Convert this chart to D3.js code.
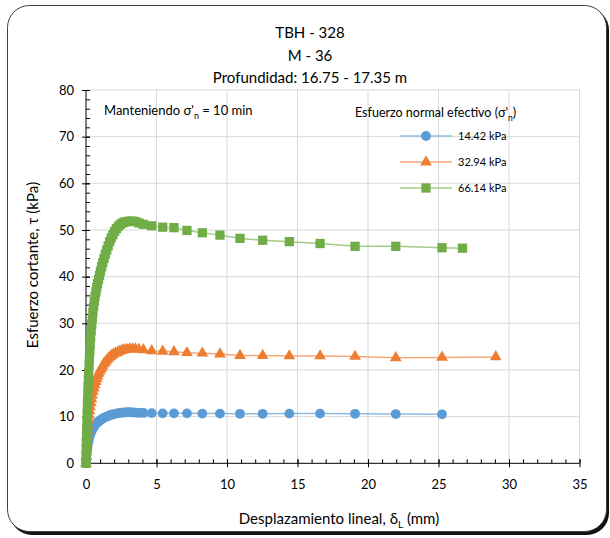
<!DOCTYPE html>
<html>
<head>
<meta charset="utf-8">
<script src="https://cdn.jsdelivr.net/npm/d3@7"></script>
<style>
  body { margin: 0; background: #fff; }
  svg { display: block; font-family: Lato, "Open Sans", sans-serif; }
</style>
</head>
<body>
<svg id="chart" width="610" height="538"></svg>
<script>
// title lines
const titleLines = ["TBH - 328", "M - 36", "Profundidad: 16.75 - 17.35 m"];

// series labels (normal effective stress)
const seriesNames = ["14.42 kPa", "32.94 kPa", "66.14 kPa"];

// displacement (mm) / shear stress (kPa)
const blueX = [0, 0.03, 0.06, 0.09, 0.12, 0.16, 0.20, 0.25, 0.30, 0.35,
  0.41, 0.47, 0.53, 0.60, 0.67, 0.75, 0.83, 0.92, 1.01, 1.10,
  1.20, 1.31, 1.42, 1.54, 1.66, 1.79, 1.93, 2.07, 2.22, 2.38,
  2.55, 2.73, 2.92, 3.12, 3.33, 3.56, 3.80, 4.07, 4.66, 5.44,
  6.24, 7.16, 8.25, 9.50, 10.92, 12.53, 14.42, 16.60, 19.08, 21.97, 25.25];
const blueY = [0, 1.0, 2.0, 3.0, 3.8, 4.5, 5.1, 5.7, 6.2, 6.6,
  7.0, 7.4, 7.7, 8.0, 8.3, 8.6, 8.8, 9.0, 9.2, 9.4,
  9.6, 9.8, 9.95, 10.1, 10.25, 10.4, 10.5, 10.6, 10.7, 10.8,
  10.85, 10.9, 10.95, 10.95, 10.9, 10.85, 10.8, 10.8, 10.75, 10.7,
  10.7, 10.7, 10.65, 10.65, 10.6, 10.6, 10.65, 10.65, 10.6, 10.55, 10.5];

const orangeX = [0, 0.02, 0.04, 0.06, 0.08, 0.11, 0.14, 0.17, 0.21, 0.25,
  0.29, 0.34, 0.39, 0.44, 0.50, 0.56, 0.62, 0.69, 0.76, 0.83,
  0.91, 0.99, 1.08, 1.17, 1.27, 1.37, 1.48, 1.59, 1.71, 1.83,
  1.96, 2.10, 2.24, 2.39, 2.55, 2.72, 2.90, 3.09, 3.29, 3.50,
  3.74, 4.07, 4.66, 5.44, 6.24, 7.16, 8.25, 9.50, 10.92, 12.53,
  14.42, 16.60, 19.08, 21.97, 25.25, 29.06];
const orangeY = [0, 1.5, 3.0, 4.5, 5.8, 7.0, 8.2, 9.3, 10.3, 11.2,
  12.1, 13.0, 13.8, 14.6, 15.4, 16.1, 16.8, 17.5, 18.1, 18.7,
  19.3, 19.8, 20.3, 20.8, 21.3, 21.7, 22.1, 22.5, 22.8, 23.1,
  23.4, 23.6, 23.8, 24.0, 24.2, 24.3, 24.4, 24.5, 24.5, 24.5,
  24.4, 24.3, 24.1, 24.0, 23.9, 23.7, 23.6, 23.4, 23.1, 23.1,
  23.0, 23.0, 22.9, 22.6, 22.7, 22.8];

const greenX = [0, 0.01, 0.02, 0.03, 0.04, 0.05, 0.07, 0.08, 0.10, 0.11,
  0.13, 0.15, 0.17, 0.19, 0.22, 0.24, 0.27, 0.30, 0.33, 0.37,
  0.41, 0.45, 0.49, 0.54, 0.59, 0.64, 0.70, 0.76, 0.82, 0.89,
  0.96, 1.03, 1.11, 1.19, 1.28, 1.37, 1.47, 1.57, 1.68, 1.79,
  1.91, 2.03, 2.16, 2.30, 2.44, 2.59, 2.75, 2.92, 3.10, 3.30,
  3.52, 3.76, 4.07, 4.66, 5.44, 6.24, 7.16, 8.25, 9.50, 10.92,
  12.53, 14.42, 16.60, 19.08, 21.97, 25.25, 26.70];
const greenY = [0, 1.5, 3.0, 4.5, 6.0, 7.5, 9.0, 10.5, 12.0, 13.5,
  15.0, 16.5, 18.0, 19.5, 21.0, 22.5, 24.0, 25.5, 27.0, 28.4,
  29.8, 31.1, 32.4, 33.6, 34.7, 35.7, 36.7, 37.6, 38.5, 39.4,
  40.3, 41.2, 42.1, 43.0, 43.9, 44.8, 45.7, 46.6, 47.5, 48.3,
  49.0, 49.7, 50.3, 50.8, 51.2, 51.5, 51.7, 51.8, 51.9, 51.9,
  51.8, 51.5, 51.2, 50.9, 50.6, 50.5, 49.9, 49.4, 48.9, 48.2,
  47.8, 47.5, 47.1, 46.5, 46.5, 46.2, 46.1];

const xTicks = [0, 5, 10, 15, 20, 25, 30, 35];
const yTicks = [0, 10, 20, 30, 40, 50, 60, 70, 80];

const svg = d3.select("#chart");
const plot = { left: 86, right: 579.5, top: 90, bottom: 463.3 };

const x = d3.scaleLinear().domain([0, 35]).range([plot.left, plot.right]);
const y = d3.scaleLinear().domain([0, 80]).range([plot.bottom, plot.top]);

// outer frame with shadow
svg.append("rect").attr("x", 10).attr("y", 8).attr("width", 599).attr("height", 527)
  .attr("rx", 22).attr("fill", "#111");
svg.append("rect").attr("x", 7.5).attr("y", 5.5).attr("width", 599).attr("height", 526)
  .attr("rx", 22).attr("fill", "#fff").attr("stroke", "#404040").attr("stroke-width", 1);

// titles
svg.append("g").selectAll("text").data(titleLines).join("text")
  .attr("x", 310).attr("y", (d, i) => 38 + i * 22.5)
  .attr("text-anchor", "middle").attr("font-size", 15).attr("fill", "#000")
  .text((d) => d);

// gridlines
const grid = svg.append("g").attr("stroke", "#d9d9d9").attr("stroke-width", 1);
grid.selectAll("line.gx").data(xTicks.slice(1)).join("line")
  .attr("x1", (d) => x(d)).attr("x2", (d) => x(d))
  .attr("y1", plot.top).attr("y2", plot.bottom);
grid.selectAll("line.gy").data(yTicks.slice(1)).join("line")
  .attr("x1", plot.left).attr("x2", plot.right)
  .attr("y1", (d) => y(d)).attr("y2", (d) => y(d));

// axes: minor ticks inside, major ticks crossing
const xAxis = svg.append("g").attr("transform", `translate(0,${plot.bottom})`);
xAxis.call(d3.axisBottom(x).tickValues(d3.range(0, 36, 1)).tickSize(-4).tickFormat(""))
  .call((g) => g.select(".domain").remove());
xAxis.append("g").call(d3.axisBottom(x).tickValues(xTicks).tickSize(4).tickPadding(12))
  .call((g) => g.select(".domain").remove())
  .call((g) => g.selectAll(".tick line").attr("y1", -4))
  .call((g) => g.selectAll("text").attr("font-size", 13).attr("font-family", "Lato").attr("fill", "#000"));
xAxis.append("line").attr("x1", plot.left).attr("x2", plot.right).attr("stroke", "#000");

const yAxis = svg.append("g").attr("transform", `translate(${plot.left},0)`);
yAxis.call(d3.axisLeft(y).tickValues(d3.range(0, 81, 2)).tickSize(-4).tickFormat(""))
  .call((g) => g.select(".domain").remove());
yAxis.append("g").call(d3.axisLeft(y).tickValues(yTicks).tickSize(4).tickPadding(8))
  .call((g) => g.select(".domain").remove())
  .call((g) => g.selectAll(".tick line").attr("x1", 4))
  .call((g) => g.selectAll("text").attr("font-size", 13).attr("font-family", "Lato").attr("fill", "#000"));
yAxis.append("line").attr("y1", plot.top).attr("y2", plot.bottom).attr("stroke", "#000");

// axis titles
const xt = svg.append("text").attr("x", 339).attr("y", 524).attr("text-anchor", "middle")
  .attr("font-size", 15).attr("fill", "#000");
xt.append("tspan").text("Desplazamiento lineal, \u03b4");
xt.append("tspan").attr("font-size", 10).attr("dy", 4).text("L");
xt.append("tspan").attr("dy", -4).text(" (mm)");

svg.append("text").attr("transform", "translate(38,265) rotate(-90)")
  .attr("text-anchor", "middle").attr("font-size", 15).attr("fill", "#000")
  .text("Esfuerzo cortante, \u03c4 (kPa)");

// note
const note = svg.append("text").attr("x", 104).attr("y", 115).attr("font-size", 13).attr("fill", "#000");
note.append("tspan").text("Manteniendo \u03c3'");
note.append("tspan").attr("font-size", 9).attr("dy", 4).text("n");
note.append("tspan").attr("dy", -4).text(" = 10 min");

// series
const colors = ["#5b9bd5", "#ed7d31", "#70ad47"];
const lineColors = ["#8fbbe3", "#f3a87a", "#a4cc86"];
const series = [
  { name: seriesNames[0], xs: blueX, ys: blueY, shape: d3.symbolCircle, size: 76 },
  { name: seriesNames[1], xs: orangeX, ys: orangeY, shape: d3.symbolTriangle, size: 60 },
  { name: seriesNames[2], xs: greenX, ys: greenY, shape: d3.symbolSquare, size: 86 },
];

const line = d3.line().x((d) => x(d[0])).y((d) => y(d[1]));
series.forEach((s, i) => {
  const pts = s.xs.map((v, k) => [v, s.ys[k]]);
  const g = svg.append("g");
  g.append("path").datum(pts).attr("d", line).attr("fill", "none")
    .attr("stroke", lineColors[i]).attr("stroke-width", 1.5);
  g.selectAll("path.m").data(pts).join("path").attr("class", "m")
    .attr("transform", (d) => `translate(${x(d[0])},${y(d[1])})`)
    .attr("d", d3.symbol(s.shape, s.size)).attr("fill", colors[i]);
});

// legend
const leg = svg.append("g");
const lt = leg.append("text").attr("x", 355).attr("y", 117).attr("font-size", 12.5).attr("fill", "#000");
lt.append("tspan").text("Esfuerzo normal efectivo (\u03c3'");
lt.append("tspan").attr("font-size", 8.5).attr("dy", 4).text("n");
lt.append("tspan").attr("dy", -4).text(")");

series.forEach((s, i) => {
  const ly = 136 + i * 26;
  leg.append("line").attr("x1", 400).attr("x2", 452).attr("y1", ly).attr("y2", ly)
    .attr("stroke", lineColors[i]).attr("stroke-width", 1.5);
  leg.append("path").attr("transform", `translate(426,${ly})`)
    .attr("d", d3.symbol(s.shape, s.size)).attr("fill", colors[i]);
  leg.append("text").attr("x", 458).attr("y", ly + 4).attr("font-size", 11).attr("fill", "#000")
    .text(s.name);
});
</script>
</body>
</html>
